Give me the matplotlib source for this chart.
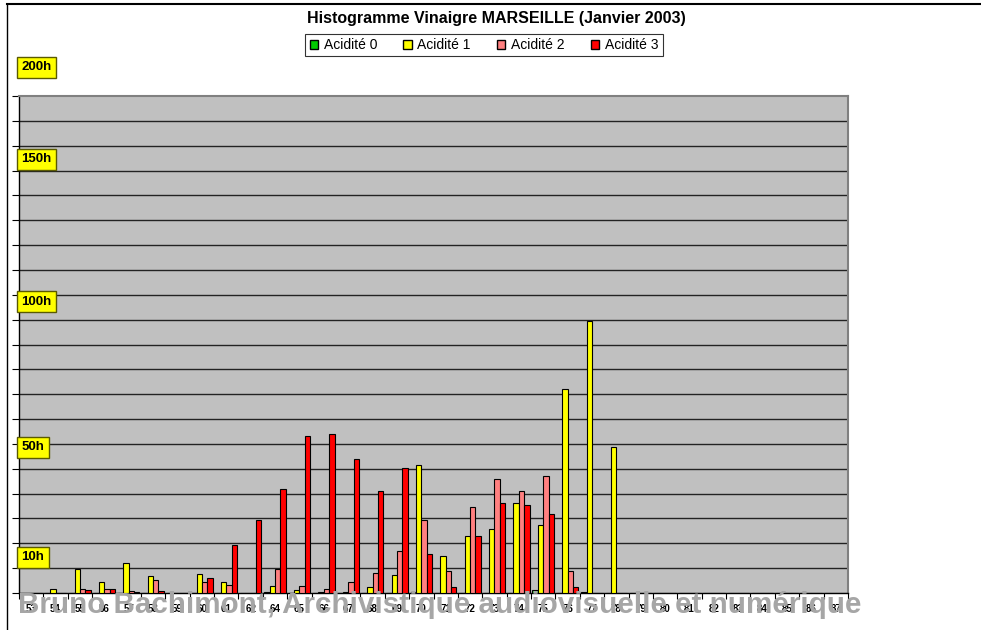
import numpy as np
import matplotlib
matplotlib.use("Agg")
import matplotlib.pyplot as plt
from matplotlib.lines import Line2D
from matplotlib.patches import Patch

plt.rcParams['font.family'] = ['Liberation Sans', 'DejaVu Sans']

# categories (63 is missing in the original)
cats = ['53', '54', '55', '56', '57', '58', '59', '60', '61', '62', '64', '65',
        '66', '67', '68', '69', '70', '71', '72', '73', '74', '75', '76', '77',
        '78', '79', '80', '81', '82', '83', '84', '85', '86', '87']

# heights, in grid steps (the chart has 20 equal steps)
acid0 = [0, 0, 0, 0, 0, 0, 0, 0, 0, 0, 0.05, 0, 0, 0, 0, 0, 0.04, 0, 0, 0,
         0, 0.12, 0, 0.05, 0, 0, 0, 0, 0, 0, 0, 0, 0, 0]
acid1 = [0, 0.18, 0.98, 0.44, 1.22, 0.70, 0, 0.78, 0.44, 0, 0.27, 0.11, 0.03,
         0.03, 0.26, 0.71, 5.16, 1.50, 2.31, 2.59, 3.63, 2.75, 8.20, 10.95,
         5.87, 0, 0, 0, 0, 0, 0, 0, 0, 0]
acid2 = [0, 0, 0.18, 0.18, 0.10, 0.52, 0, 0.44, 0.34, 0, 0.98, 0.27, 0.18,
         0.44, 0.79, 1.69, 2.92, 0.88, 3.46, 4.60, 4.09, 4.70, 0.88, 0, 0, 0,
         0, 0, 0, 0, 0, 0, 0, 0]
acid3 = [0, 0, 0.11, 0.18, 0.04, 0.10, 0, 0.62, 1.95, 2.92, 4.17, 6.30, 6.40,
         5.40, 4.09, 5.04, 1.58, 0.26, 2.31, 3.63, 3.55, 3.19, 0.26, 0, 0, 0,
         0, 0, 0, 0, 0, 0, 0, 0]

series = [('Acidité 0', acid0, '#00CC00'),
          ('Acidité 1', acid1, '#FFFF00'),
          ('Acidité 2', acid2, '#FF8080'),
          ('Acidité 3', acid3, '#FF0000')]

# yellow hour boxes (label, position in grid steps)
hour_labels = ['200h', '150h', '100h', '50h', '10h']
hour_pos = [21.15, 17.46, 11.73, 5.87, 1.44]

W, H = 981, 630
fig = plt.figure(figsize=(W / 100, H / 100), dpi=100)
ax = fig.add_axes([19 / W, (H - 593) / H, (848 - 19) / W, (593 - 96) / H])
ax.set_facecolor('#C0C0C0')

x = np.arange(len(cats))
w = 0.22
for k, (name, vals, col) in enumerate(series):
    ax.bar(x + (k - 1.5) * w, vals, w, color=col, edgecolor='black',
           linewidth=0.8, label=name, zorder=3)

for g in range(1, 20):
    ax.axhline(g, color='#222222', lw=1, zorder=1)

ax.set_xlim(-0.5, len(cats) - 0.5)
ax.set_ylim(0, 20)
ax.set_yticks(range(0, 21))
ax.set_yticklabels([])
ax.tick_params(axis='y', direction='out', length=5, width=0.8)
ax.set_xticks(x)
ax.set_xticklabels(cats, fontsize=7, fontweight='bold')
ax.tick_params(axis='x', length=0, pad=8)
ax.set_xticks(np.arange(len(cats) + 1) - 0.5, minor=True)
ax.tick_params(axis='x', which='minor', direction='out', length=4, width=0.8)

for s in ['left', 'bottom']:
    ax.spines[s].set_color('black')
    ax.spines[s].set_linewidth(1)
for s in ['top', 'right']:
    ax.spines[s].set_color('#808080')
    ax.spines[s].set_linewidth(1.5)

for lab, p in zip(hour_labels, hour_pos):
    ax.text(-0.41, p, lab, fontsize=9.5, fontweight='bold', va='center',
            ha='left', clip_on=False, zorder=5,
            bbox=dict(boxstyle='square,pad=0.35', fc='#FFFF00', ec='#5A5A00', lw=1))

fig.text(496 / W, 1 - 18 / H, 'Histogramme Vinaigre MARSEILLE (Janvier 2003)',
         fontsize=11.5, fontweight='bold', ha='center', va='center')

handles = [Patch(facecolor=c, edgecolor='black', label=n) for n, _, c in series]
leg = fig.legend(handles=handles, loc='center', ncol=4,
                 bbox_to_anchor=(484 / W, 1 - 45 / H), fontsize=10,
                 frameon=True, fancybox=False, edgecolor='black',
                 handlelength=0.6, handleheight=0.6, handletextpad=0.4,
                 columnspacing=1.9, borderpad=0.3)
leg.get_frame().set_linewidth(0.8)

fig.text(18 / W, (H - 613) / H,
         'Bruno Bachimont, Archivistique audiovisuelle et numérique',
         fontsize=21.3, fontweight='bold', color='#A6A6A6', ha='left',
         va='baseline', zorder=10)

fig.add_artist(Line2D([7 / W, 1], [1 - 4 / H, 1 - 4 / H], color='black', lw=1.5))
fig.add_artist(Line2D([7 / W, 7 / W], [0, 1 - 4 / H], color='black', lw=1))

fig.savefig('out.png', dpi=100)
